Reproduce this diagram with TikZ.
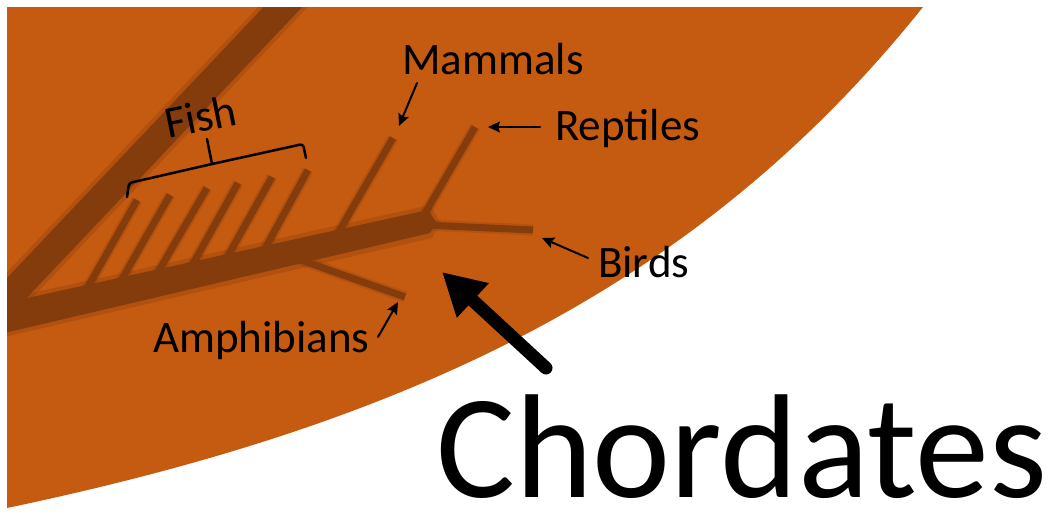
\documentclass[tikz,border=0pt]{standalone}
\usepackage{fontspec}
\setmainfont{Carlito}
\usetikzlibrary{arrows.meta}
\definecolor{orng}{HTML}{C55A11}
\definecolor{brn}{HTML}{843C0C}
\begin{document}
\begin{tikzpicture}[x=1pt,y=-1pt,
  lbl/.style={font=\fontsize{45}{54}\selectfont, inner sep=0pt, anchor=base west},
  lblarrow/.style={-{Stealth[length=12pt,width=11pt,inset=2pt]}, line width=2pt, black, line cap=round},
  twig/.style={draw=brn, line width=7pt, preaction={draw=brn, opacity=0.25, line width=11pt}},
  bigarrow/.style={-{Triangle[length=42pt,width=44pt]}, line width=13pt, black, line cap=round},
  bracketline/.style={draw=black, line width=2.5pt, line cap=round}
]
\useasboundingbox (0,0) rectangle (1051,512);
\def\orangeshape{(7,7) -- (923,7) .. controls (693,294.5) and (397,426) .. (7,508) -- cycle}
\fill[orng] \orangeshape;
\begin{scope}
  \clip \orangeshape;
  % broad diagonal band
  \draw[brn, line width=36pt, opacity=0.3] (299,-10) -- (-4,310);
  \draw[brn, line width=28pt] (299,-10) -- (-4,310);
  % trunk
  \fill[brn, opacity=0.3] (0,300) -- (430,205) -- (440,222) -- (432,238) -- (0,338) -- cycle;
  \fill[brn] (0,304) -- (428,210) -- (436,222) -- (430,233) -- (0,334) -- cycle;
  % fish twigs
  \draw[twig] (84,294) -- (137,200);
  \draw[twig] (118,286) -- (170,195);
  \draw[twig] (154,279) -- (207,188);
  \draw[twig] (189,271) -- (238,183);
  \draw[twig] (224,263) -- (272,177);
  \draw[twig] (261,256) -- (308,170);
  % other twigs
  \draw[twig] (334,240) -- (393,138);
  \draw[twig] (420,222) -- (475,127);
  \draw[twig] (425,225) -- (533,230);
  \draw[twig] (298,259) -- (405,297);
\end{scope}
% arrow ends
\coordinate (mamH) at (399,126);
\coordinate (mamT) at (417,83);
\coordinate (repH) at (488,127);
\coordinate (repT) at (540,127);
\coordinate (birH) at (542,238);
\coordinate (birT) at (588,258);
\coordinate (ampH) at (398,302);
\coordinate (ampT) at (378,337);
\coordinate (chH) at (442,272);
\coordinate (chT) at (546,368);
% labels
\node[lbl] (mam) at (402,74) {Mammals};
\node[lbl] (rep) at (555,140) {Reptiles};
\node[lbl] (bir) at (598,277) {Birds};
\node[lbl] (amp) at (153,352) {Amphibians};
\node[lbl, rotate=11.5] (fish) at (168,139) {Fish};
\node[font=\fontsize{148}{170}\selectfont, inner sep=0pt, anchor=base west] (chord) at (436,497) {Chordates};
% arrows
\draw[lblarrow] (mamT) -- (mamH);
\draw[lblarrow] (repT) -- (repH);
\draw[lblarrow] (birT) -- (birH);
\draw[lblarrow] (ampT) -- (ampH);
\draw[bigarrow] (chT) -- (chH);
% fish bracket
\coordinate (brL) at (127,197);
\coordinate (brM) at (212,164);
\coordinate (brR) at (306,158);
\coordinate (brTop) at (207,139);
\draw[bracketline, rounded corners=3pt] (brL) -- (129,183) -- (brM) -- (303,144) -- (brR);
\draw[bracketline] (brM) -- (brTop);
\end{tikzpicture}
\end{document}
